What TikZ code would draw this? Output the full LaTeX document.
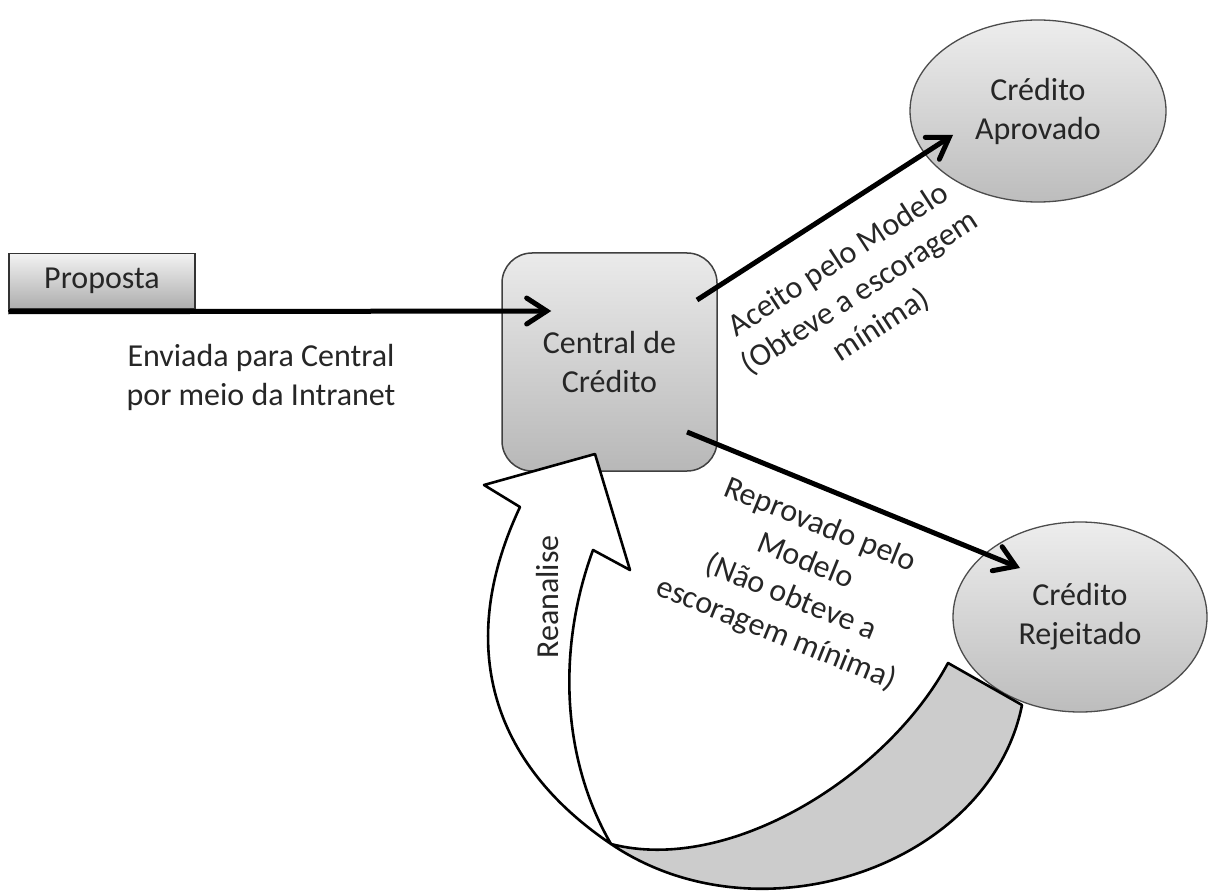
\documentclass[tikz,border=0pt]{standalone}
\usepackage{fontspec}
\setmainfont{Carlito}
\usetikzlibrary{shapes.geometric,arrows.meta,calc}
\begin{document}
\begin{tikzpicture}[x=1pt,y=-1pt,
  txt/.style={font=\fontsize{32}{39}\selectfont, text=black!85, align=center},
  conn/.style={line width=5pt, -{Straight Barb[length=20pt,width=26pt,line cap=round]}},
  ellbox/.style={ellipse, draw=black!70, line width=1.3pt, top color=black!7, bottom color=black!26, inner sep=0pt, txt},
  centralbox/.style={rectangle, rounded corners=30pt, draw=black!75, line width=1.5pt, top color=black!8, bottom color=black!28, inner sep=0pt, txt},
  propbox/.style={rectangle, draw=black!80, line width=1.5pt, top color=black!5, bottom color=black!32, inner sep=0pt, txt},
  band/.style={line width=2.6pt, draw=black, line join=round}
]
\useasboundingbox (0,0) rectangle (1209,893);
\clip (0,0) rectangle (1209,893);

% nodes
\node[propbox, minimum width=186pt, minimum height=55pt] (prop) at (102,281) {Proposta};
\node[centralbox, minimum width=215pt, minimum height=218pt] (central) at (609.5,362) {Central de\\Crédito};
\node[ellbox, minimum width=256pt, minimum height=182pt] (aprov) at (1038,111) {Crédito\\Aprovado};
\node[ellbox, minimum width=254pt, minimum height=190pt] (rejeit) at (1080,617) {Crédito\\Rejeitado};

% labels
\node[txt] (envlbl) at (261,377) {Enviada para Central\\por meio da Intranet};
\node[txt, rotate=33] (acclbl) at (860,293) {Aceito pelo Modelo\\(Obteve a escoragem\\mínima)};
\node[txt, rotate=-22] (replbl) at (798,580) {Reprovado pelo\\Modelo\\(Não obteve a\\escoragem mínima)};

% connectors
\coordinate (pin) at ($(central.west)+(50,-51)$);
\draw[conn] ($(prop.south west)+(0,2.5)$) -- (pin);
\draw[conn] ($(central.center)+(87.5,-62)$) -- ($(aprov.center)+(-85,24)$);
\draw[conn] ($(central.center)+(77.5,70)$) -- ($(rejeit.center)+(-60,-49)$);

% curved block arrow (Reanalise)
\filldraw[band, fill=black!20]
  (611,844) .. controls (760,945) and (990,865) .. (1022,705)
  -- (948,663) .. controls (888,775) and (730,875) .. (611,844) -- cycle;
\filldraw[band, fill=white]
  (611,844) .. controls (560,756) and (558,645) .. (593,550)
  -- (630,570) -- (595,454) -- (484,485) -- (520,507)
  .. controls (455,645) and (491,763) .. (611,844) -- cycle;
\node[txt, rotate=90] (rean) at (547,597) {Reanalise};
\end{tikzpicture}
\end{document}
